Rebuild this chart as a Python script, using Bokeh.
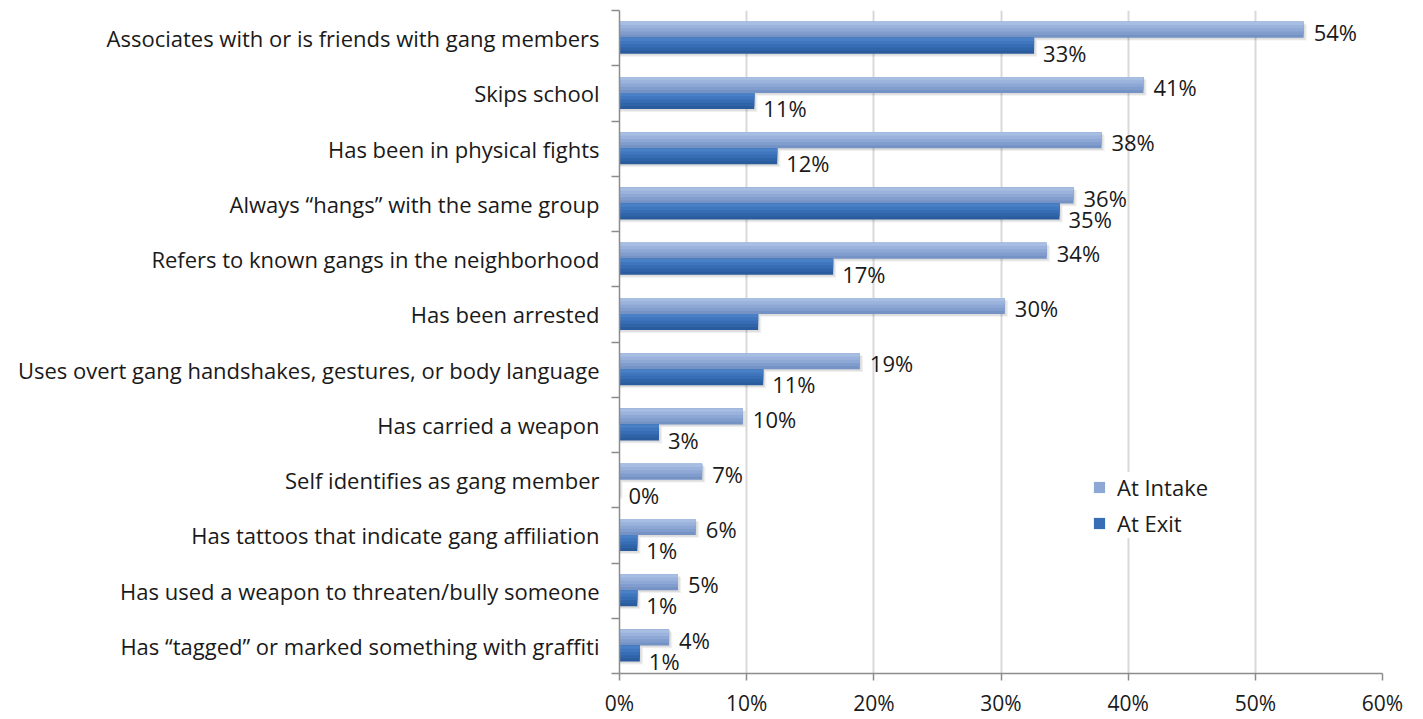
from bokeh.plotting import figure
from bokeh.models import ColumnDataSource, FixedTicker, Legend, LegendItem, Range1d
from bokeh.core.properties import value
from bokeh.transform import dodge
from bokeh.embed import file_html
from bokeh.resources import INLINE

categories = [
    "Associates with or is friends with gang members",
    "Skips school",
    "Has been in physical fights",
    "Always \u201changs\u201d with the same group",
    "Refers to known gangs in the neighborhood",
    "Has been arrested",
    "Uses overt gang handshakes, gestures, or body language",
    "Has carried a weapon",
    "Self identifies as gang member",
    "Has tattoos that indicate gang affiliation",
    "Has used a weapon to threaten/bully someone",
    "Has \u201ctagged\u201d or marked something with graffiti",
]
at_intake = [53.8, 41.2, 37.9, 35.7, 33.6, 30.3, 18.9, 9.7, 6.5, 6.0, 4.6, 3.9]
at_exit = [32.6, 10.6, 12.4, 34.6, 16.8, 10.9, 11.3, 3.1, 0.0, 1.4, 1.4, 1.6]
intake_labels = ["54%", "41%", "38%", "36%", "34%", "30%", "19%", "10%", "7%", "6%", "5%", "4%"]
exit_labels = ["33%", "11%", "12%", "35%", "17%", "", "11%", "3%", "0%", "1%", "1%", "1%"]
x_ticks = [0, 10, 20, 30, 40, 50, 60]
x_tick_labels = ["0%", "10%", "20%", "30%", "40%", "50%", "60%"]
series_names = ["At Intake", "At Exit"]

FONT = "Open Sans"
n = len(categories)
centers = [n - i - 0.5 for i in range(n)]
bounds = list(range(n + 1))

p = figure(width=1415, height=719, output_backend="svg", toolbar_location=None,
           x_range=Range1d(0, 60), y_range=Range1d(0, n),
           min_border_left=619, min_border_right=33, min_border_top=10, min_border_bottom=44)
p.title.visible = False
p.outline_line_color = None
p.background_fill_color = "white"
p.border_fill_color = "white"

BAR_H = 0.29
OFF_IN = 0.15
OFF_EX = -0.14

src = ColumnDataSource(dict(
    y_in=[c + OFF_IN for c in centers],
    y_ex=[c + OFF_EX for c in centers],
    intake=at_intake, exit=at_exit,
    lab_in=intake_labels, lab_ex=exit_labels,
))

# soft drop shadows
for a, dy, dx in [(0.06, -0.05, 0.25), (0.08, -0.03, 0.14)]:
    p.hbar(y=dodge("y_in", dy, range=p.y_range), right=dodge("intake", dx, range=p.x_range), left=0,
           height=BAR_H, source=src, fill_color="#000000", fill_alpha=a, line_color=None)
    p.hbar(y=dodge("y_ex", dy, range=p.y_range), right=dodge("exit", dx, range=p.x_range), left=0,
           height=BAR_H, source=src, fill_color="#000000", fill_alpha=a, line_color=None)


def gradient_bar(ycol, xcol, colors):
    # colours from bottom (darkest) to top (lightest); each layer covers the
    # upper part of the bar, so no seams appear
    k = len(colors)
    rs = []
    for j, col in enumerate(colors):
        frac = 1 - j / k
        h = BAR_H * frac
        mid = BAR_H / 2 - h / 2
        r = p.hbar(y=dodge(ycol, mid, range=p.y_range), right=xcol, left=0,
                   height=h, source=src, fill_color=col, line_color=None)
        rs.append(r)
    return rs


in_colors = ["#7592c5", "#819dcd", "#8ea8d5", "#9bb3dc", "#a8bde2"]
ex_colors = ["#2a5b9d", "#3064a9", "#376db4", "#3f76bd", "#4a80c6"]
rin = gradient_bar("y_in", "intake", in_colors)
rex = gradient_bar("y_ex", "exit", ex_colors)

# value labels
p.text(x="intake", y="y_in", text="lab_in", source=src, x_offset=10, y_offset=2,
       text_baseline="middle", text_align="left", text_font=value(FONT),
       text_font_size="22px", text_color="#1a1a1a")
p.text(x="exit", y="y_ex", text="lab_ex", source=src, x_offset=9, y_offset=7,
       text_baseline="middle", text_align="left", text_font=value(FONT),
       text_font_size="22px", text_color="#1a1a1a")

# axes
xa = p.xaxis[0]
xa.ticker = FixedTicker(ticks=x_ticks)
xa.major_label_overrides = {t: l for t, l in zip(x_ticks, x_tick_labels)}
xa.major_label_text_font = FONT
xa.major_label_text_font_size = "21px"
xa.major_label_text_color = "#1a1a1a"
xa.axis_line_color = "#8c8c8c"
xa.axis_line_width = 1.5
xa.major_tick_line_color = "#8c8c8c"
xa.major_tick_line_width = 1.5
xa.major_tick_out = 7
xa.major_tick_in = 0
xa.minor_tick_line_color = None
xa.major_label_standoff = 8

ya = p.yaxis[0]
ya.ticker = FixedTicker(ticks=centers, minor_ticks=bounds)
ya.major_label_overrides = {c: lab for c, lab in zip(centers, categories)}
ya.major_label_text_font = FONT
ya.major_label_text_font_size = "22px"
ya.major_label_text_color = "#1a1a1a"
ya.major_tick_line_color = None
ya.major_tick_out = 0
ya.major_tick_in = 0
ya.minor_tick_line_color = "#8c8c8c"
ya.minor_tick_line_width = 1.5
ya.minor_tick_out = 8
ya.minor_tick_in = 0
ya.axis_line_color = "#8c8c8c"
ya.axis_line_width = 1.5
ya.major_label_standoff = 12

p.xgrid.grid_line_color = "#d9d9d9"
p.xgrid.grid_line_width = 2
p.xgrid.ticker = FixedTicker(ticks=x_ticks[1:])
p.ygrid.grid_line_color = None

legend = Legend(items=[LegendItem(label=series_names[0], renderers=[rin[2]]),
                       LegendItem(label=series_names[1], renderers=[rex[2]])],
                location=(473, 135), orientation="vertical")
legend.label_text_font = FONT
legend.label_text_font_size = "22px"
legend.label_text_color = "#1a1a1a"
legend.glyph_width = 14
legend.glyph_height = 14
legend.label_height = 26
legend.spacing = 6
legend.padding = 8
legend.label_standoff = 11
legend.border_line_color = None
legend.background_fill_color = "white"
legend.background_fill_alpha = 1.0
legend.margin = 0
p.add_layout(legend)

open("out.html", "w").write(file_html(p, INLINE))
